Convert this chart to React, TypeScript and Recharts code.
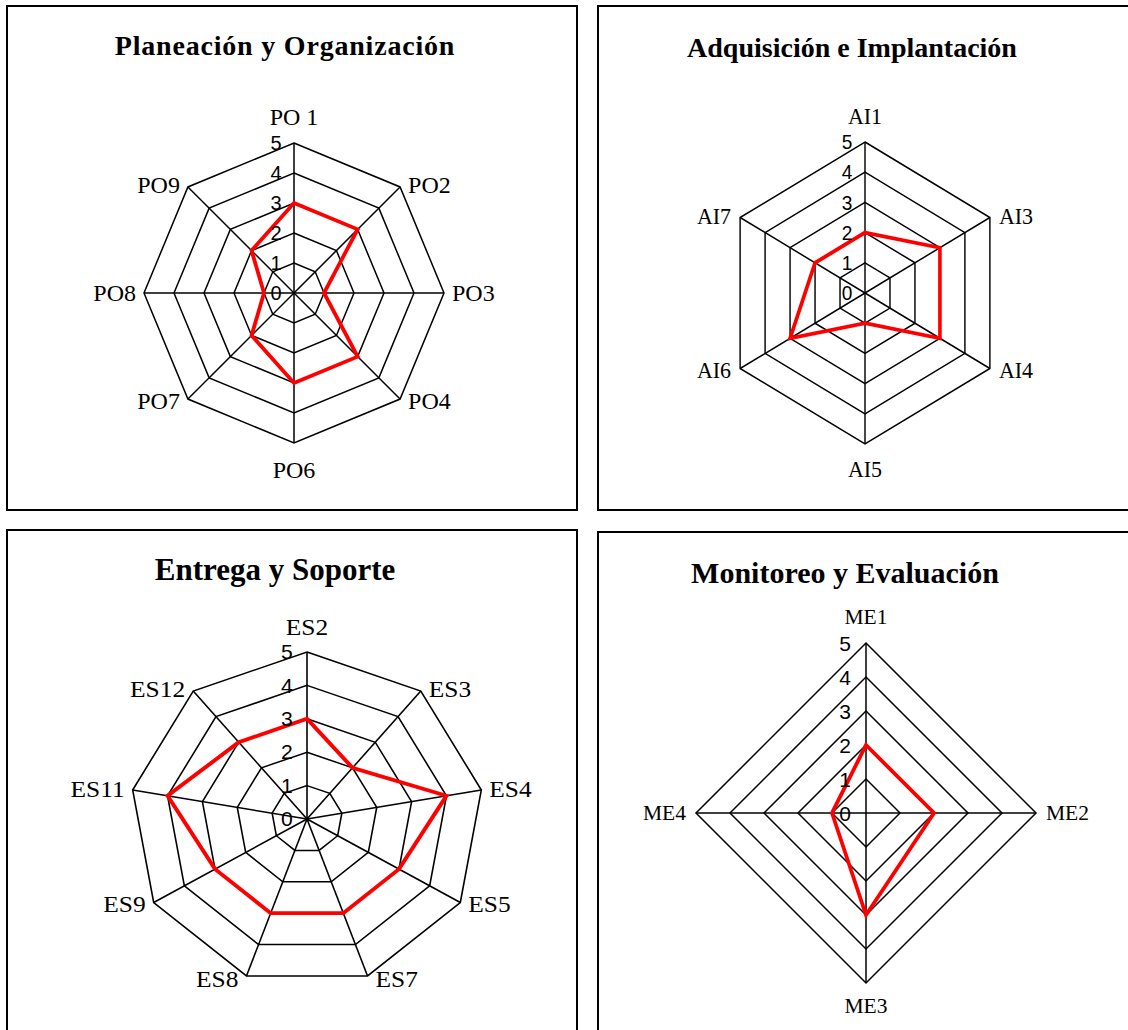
import React from 'react';
import { RadarChart, Radar, PolarGrid, PolarAngleAxis, PolarRadiusAxis } from 'recharts';

// ---- Data ----
const poCategories = ['PO 1', 'PO2', 'PO3', 'PO4', 'PO6', 'PO7', 'PO8', 'PO9'];
const poValues = [3, 3, 1, 3, 3, 2, 1, 2];

const aiCategories = ['AI1', 'AI3', 'AI4', 'AI5', 'AI6', 'AI7'];
const aiValues = [2, 3, 3, 1, 3, 2];

const esCategories = ['ES2', 'ES3', 'ES4', 'ES5', 'ES7', 'ES8', 'ES9', 'ES11', 'ES12'];
const esValues = [3, 2, 4, 3, 3, 3, 3, 4, 3];

const meCategories = ['ME1', 'ME2', 'ME3', 'ME4'];
const meValues = [2, 2, 3, 1];

const titles = ['Planeación y Organización', 'Adquisición e Implantación', 'Entrega y Soporte', 'Monitoreo y Evaluación'];
const radiusDomain: [number, number] = [0, 5];

const SERIF = '"Liberation Serif", "Times New Roman", serif';
const SANS = '"Liberation Sans", Arial, sans-serif';

type PanelCfg = {
  box: { x: number; y: number; w: number; h: number };
  categories: string[];
  values: number[];
  cx: number;
  cy: number;
  r: number;
  sx: number;
  labelSize: number;
  topGap: number;
  bottomGap: number;
  sideGap: number;
  numSize: number;
  numOffset: number;
};

function RadarPanel(p: PanelCfg) {
  const data = p.categories.map((c, i) => ({ name: c, value: p.values[i] }));
  const lcx = p.cx - p.box.x;
  const lcy = p.cy - p.box.y;

  const angleTick = (props: any) => {
    const { payload } = props;
    const rad = (payload.coordinate * Math.PI) / 180;
    const ux = Math.cos(rad);
    const uy = -Math.sin(rad);
    const vx = lcx + p.r * ux;
    const vy = lcy + p.r * uy;
    let x = vx;
    let y = vy;
    let anchor: 'start' | 'middle' | 'end' = 'middle';
    if (Math.abs(ux) < 0.05) {
      y = uy < 0 ? vy - p.topGap : vy + p.bottomGap;
    } else {
      anchor = ux > 0 ? 'start' : 'end';
      x = vx + ((ux > 0 ? 1 : -1) * p.sideGap) / p.sx;
      y = vy + p.labelSize * 0.33 + uy * 3;
    }
    return (
      <text x={x} y={y} textAnchor={anchor} fontFamily={SERIF} fontSize={p.labelSize} fill="#000">
        {payload.value}
      </text>
    );
  };

  const radiusTick = (props: any) => {
    const { y, payload } = props;
    return (
      <text
        x={lcx - p.numOffset / p.sx}
        y={y}
        textAnchor="middle"
        dominantBaseline="central"
        fontFamily={SANS}
        fontSize={p.numSize}
        fill="#000"
      >
        {payload.value}
      </text>
    );
  };

  return (
    <div
      style={{
        position: 'absolute',
        left: p.box.x,
        top: p.box.y,
        width: p.box.w,
        height: p.box.h,
        transform: `scaleX(${p.sx})`,
        transformOrigin: `${lcx}px 0px`,
      }}
    >
      <RadarChart
        width={p.box.w}
        height={p.box.h}
        cx={lcx}
        cy={lcy}
        outerRadius={p.r}
        data={data}
        margin={{ top: 0, right: 0, bottom: 0, left: 0 }}
      >
        <PolarGrid gridType="polygon" stroke="#000" strokeWidth={1.5} strokeOpacity={1} />
        <PolarAngleAxis dataKey="name" tick={angleTick} tickLine={false} axisLine={false} />
        <PolarRadiusAxis
          angle={90}
          type="number"
          domain={radiusDomain}
          tickCount={6}
          axisLine={false}
          tickLine={false}
          tick={radiusTick}
        />
        <Radar
          dataKey="value"
          stroke="#ff0000"
          strokeWidth={3.8}
          fill="none"
          fillOpacity={0}
          dot={false}
          isAnimationActive={false}
        />
      </RadarChart>
    </div>
  );
}

export default function App() {
  return (
    <div
      style={{
        position: 'absolute',
        left: 0,
        top: 0,
        width: 1128,
        height: 1030,
        overflow: 'hidden',
        background: '#fff',
      }}
    >
      <svg width={1128} height={1030} style={{ position: 'absolute', left: 0, top: 0 }}>
        <rect x={7} y={6} width={570} height={504} fill="none" stroke="#000" strokeWidth={2} />
        <rect x={598} y={6} width={600} height={504} fill="none" stroke="#000" strokeWidth={2} />
        <rect x={7} y={530} width={570} height={600} fill="none" stroke="#000" strokeWidth={2} />
        <rect x={598} y={532} width={600} height={600} fill="none" stroke="#000" strokeWidth={2} />
        <text
          x={285}
          y={55}
          textAnchor="middle"
          fontFamily={SERIF}
          fontWeight="bold"
          fontSize={28}
          letterSpacing={0.8}
          fill="#000"
        >
          {titles[0]}
        </text>
        <text x={852} y={57} textAnchor="middle" fontFamily={SERIF} fontWeight="bold" fontSize={28} fill="#000">
          {titles[1]}
        </text>
        <text x={275} y={580} textAnchor="middle" fontFamily={SERIF} fontWeight="bold" fontSize={31} fill="#000">
          {titles[2]}
        </text>
        <text x={845} y={583} textAnchor="middle" fontFamily={SERIF} fontWeight="bold" fontSize={30} fill="#000">
          {titles[3]}
        </text>
      </svg>

      <RadarPanel
        box={{ x: 9, y: 70, w: 566, h: 438 }}
        categories={poCategories}
        values={poValues}
        cx={294}
        cy={293}
        r={150}
        sx={1}
        labelSize={24}
        topGap={18.5}
        bottomGap={35}
        sideGap={8}
        numSize={20}
        numOffset={18}
      />
      <RadarPanel
        box={{ x: 600, y: 70, w: 526, h: 438 }}
        categories={aiCategories}
        values={aiValues}
        cx={865}
        cy={293}
        r={151}
        sx={0.955}
        labelSize={23}
        topGap={17.5}
        bottomGap={33}
        sideGap={9}
        numSize={20}
        numOffset={18}
      />
      <RadarPanel
        box={{ x: 9, y: 590, w: 566, h: 438 }}
        categories={esCategories}
        values={esValues}
        cx={307}
        cy={819}
        r={167}
        sx={1.06}
        labelSize={24}
        topGap={17}
        bottomGap={33}
        sideGap={8}
        numSize={20}
        numOffset={20}
      />
      <RadarPanel
        box={{ x: 600, y: 592, w: 526, h: 436 }}
        categories={meCategories}
        values={meValues}
        cx={866}
        cy={813}
        r={170}
        sx={1}
        labelSize={21.5}
        topGap={19}
        bottomGap={30}
        sideGap={10}
        numSize={21}
        numOffset={21}
      />
    </div>
  );
}
